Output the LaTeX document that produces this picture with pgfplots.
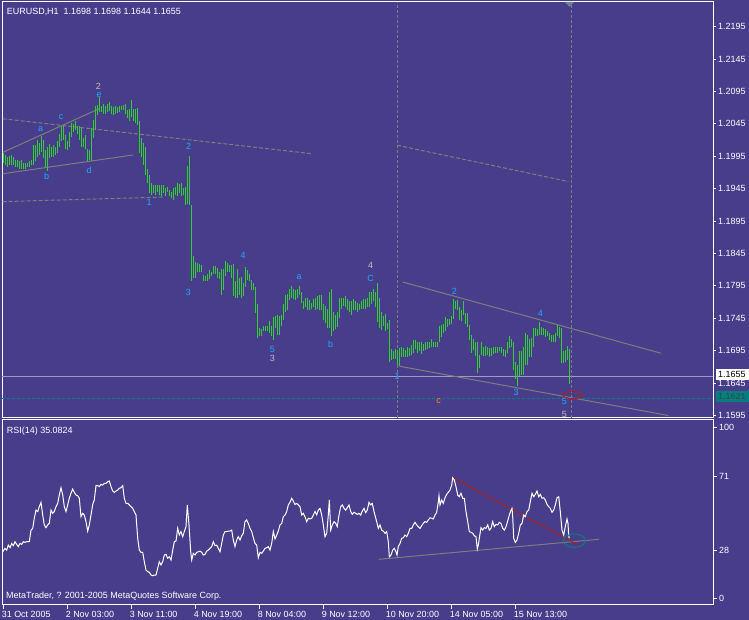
\documentclass[border=0pt]{standalone}
\usepackage{fontspec}
\setmainfont{Liberation Sans}
\usepackage{pgfplots}
\usepackage{pgfplotstable}
\pgfplotsset{compat=1.18}
\definecolor{bgc}{RGB}{72,61,139}
\definecolor{barc}{RGB}{50,205,50}
\definecolor{wavec}{RGB}{30,170,255}
\definecolor{tgray}{RGB}{125,125,125}
\definecolor{lgray}{RGB}{192,192,192}
\definecolor{tealc}{RGB}{0,128,128}
\definecolor{redc}{RGB}{175,30,30}
\definecolor{orangec}{RGB}{255,140,0}
\definecolor{bidc}{RGB}{160,155,195}
\definecolor{trianc}{RGB}{110,130,140}

\pgfplotstableread{
i lo hi
0 1.1984 1.2000
1 1.1982 1.1997
2 1.1979 1.1994
3 1.1982 1.1996
4 1.1981 1.1997
5 1.1981 1.1994
6 1.1979 1.1990
7 1.1979 1.1989
8 1.1976 1.1987
9 1.1976 1.1990
10 1.1976 1.1985
11 1.1976 1.1985
12 1.1978 1.1984
13 1.1979 1.1987
14 1.1981 1.1990
15 1.1982 1.2012
16 1.1987 1.2012
17 1.1994 1.2020
18 1.1997 1.2015
19 1.2002 1.2026
20 1.1992 1.2020
21 1.1979 1.2005
22 1.1973 1.2010
23 1.1992 1.2014
24 1.1994 1.2010
25 1.1994 1.2012
26 1.1997 1.2010
27 1.2000 1.2018
28 1.2010 1.2030
29 1.2018 1.2042
30 1.2020 1.2041
31 1.2007 1.2028
32 1.2005 1.2018
33 1.2010 1.2032
34 1.2025 1.2046
35 1.2033 1.2045
36 1.2036 1.2050
37 1.2030 1.2041
38 1.2020 1.2041
39 1.2010 1.2038
40 1.2010 1.2023
41 1.2007 1.2028
42 1.1987 1.2007
43 1.1989 1.2005
44 1.1987 1.2038
45 1.2023 1.2051
46 1.2036 1.2073
47 1.2059 1.2074
48 1.2064 1.2086
49 1.2064 1.2073
50 1.2061 1.2076
51 1.2061 1.2073
52 1.2064 1.2076
53 1.2065 1.2078
54 1.2061 1.2072
55 1.2059 1.2071
56 1.2061 1.2073
57 1.2062 1.2071
58 1.2064 1.2072
59 1.2067 1.2073
60 1.2067 1.2074
61 1.2061 1.2076
62 1.2054 1.2067
63 1.2050 1.2068
64 1.2056 1.2082
65 1.2050 1.2068
66 1.2046 1.2068
67 1.2043 1.2069
68 1.2000 1.2050
69 1.1994 1.2023
70 1.1982 1.2015
71 1.1966 1.2010
72 1.1953 1.1976
73 1.1938 1.1966
74 1.1935 1.1953
75 1.1938 1.1951
76 1.1935 1.1951
77 1.1940 1.1951
78 1.1935 1.1951
79 1.1933 1.1951
80 1.1938 1.1951
81 1.1933 1.1946
82 1.1940 1.1948
83 1.1933 1.1943
84 1.1930 1.1940
85 1.1928 1.1946
86 1.1935 1.1948
87 1.1933 1.1954
88 1.1938 1.1952
89 1.1933 1.1953
90 1.1935 1.1946
91 1.1920 1.1948
92 1.1922 1.1980
93 1.1920 1.1995
94 1.1803 1.1920
95 1.1807 1.1841
96 1.1807 1.1832
97 1.1816 1.1831
98 1.1816 1.1829
99 1.1817 1.1827
100 1.1802 1.1812
101 1.1802 1.1810
102 1.1802 1.1814
103 1.1805 1.1819
104 1.1810 1.1817
105 1.1814 1.1826
106 1.1813 1.1825
107 1.1807 1.1822
108 1.1805 1.1817
109 1.1781 1.1821
110 1.1788 1.1821
111 1.1810 1.1834
112 1.1817 1.1831
113 1.1817 1.1827
114 1.1807 1.1827
115 1.1780 1.1829
116 1.1777 1.1802
117 1.1777 1.1821
118 1.1781 1.1807
119 1.1777 1.1808
120 1.1780 1.1799
121 1.1794 1.1824
122 1.1804 1.1819
123 1.1802 1.1814
124 1.1789 1.1804
125 1.1788 1.1800
126 1.1753 1.1793
127 1.1714 1.1767
128 1.1717 1.1730
129 1.1717 1.1728
130 1.1725 1.1733
131 1.1726 1.1733
132 1.1725 1.1733
133 1.1722 1.1741
134 1.1717 1.1733
135 1.1711 1.1747
136 1.1730 1.1749
137 1.1719 1.1750
138 1.1719 1.1749
139 1.1733 1.1750
140 1.1742 1.1767
141 1.1755 1.1781
142 1.1757 1.1783
143 1.1773 1.1790
144 1.1776 1.1795
145 1.1774 1.1790
146 1.1773 1.1789
147 1.1777 1.1790
148 1.1781 1.1795
149 1.1768 1.1785
150 1.1759 1.1771
151 1.1762 1.1777
152 1.1757 1.1776
153 1.1758 1.1773
154 1.1759 1.1769
155 1.1762 1.1774
156 1.1758 1.1777
157 1.1759 1.1780
158 1.1757 1.1781
159 1.1758 1.1781
160 1.1742 1.1767
161 1.1738 1.1764
162 1.1730 1.1759
163 1.1730 1.1786
164 1.1718 1.1790
165 1.1725 1.1755
166 1.1728 1.1750
167 1.1732 1.1755
168 1.1745 1.1777
169 1.1760 1.1777
170 1.1764 1.1777
171 1.1762 1.1780
172 1.1758 1.1774
173 1.1754 1.1771
174 1.1750 1.1772
175 1.1757 1.1774
176 1.1758 1.1772
177 1.1755 1.1769
178 1.1758 1.1767
179 1.1760 1.1771
180 1.1760 1.1774
181 1.1760 1.1774
182 1.1762 1.1777
183 1.1763 1.1785
184 1.1767 1.1786
185 1.1771 1.1790
186 1.1762 1.1785
187 1.1740 1.1799
188 1.1730 1.1776
189 1.1727 1.1754
190 1.1733 1.1749
191 1.1726 1.1752
192 1.1728 1.1738
193 1.1678 1.1742
194 1.1680 1.1697
195 1.1682 1.1694
196 1.1682 1.1697
197 1.1673 1.1696
198 1.1672 1.1699
199 1.1686 1.1700
200 1.1686 1.1699
201 1.1685 1.1696
202 1.1686 1.1701
203 1.1687 1.1699
204 1.1688 1.1704
205 1.1691 1.1711
206 1.1697 1.1712
207 1.1691 1.1709
208 1.1694 1.1709
209 1.1690 1.1708
210 1.1695 1.1705
211 1.1696 1.1708
212 1.1697 1.1709
213 1.1699 1.1708
214 1.1700 1.1713
215 1.1701 1.1709
216 1.1700 1.1708
217 1.1701 1.1709
218 1.1708 1.1733
219 1.1716 1.1735
220 1.1723 1.1736
221 1.1725 1.1747
222 1.1732 1.1744
223 1.1735 1.1744
224 1.1736 1.1748
225 1.1744 1.1774
226 1.1760 1.1771
227 1.1758 1.1773
228 1.1742 1.1763
229 1.1741 1.1758
230 1.1750 1.1771
231 1.1736 1.1753
232 1.1731 1.1753
233 1.1712 1.1735
234 1.1692 1.1719
235 1.1696 1.1713
236 1.1687 1.1709
237 1.1661 1.1709
238 1.1668 1.1688
239 1.1688 1.1708
240 1.1687 1.1701
241 1.1687 1.1702
242 1.1688 1.1700
243 1.1686 1.1699
244 1.1687 1.1699
245 1.1690 1.1701
246 1.1691 1.1701
247 1.1692 1.1701
248 1.1694 1.1701
249 1.1691 1.1701
250 1.1687 1.1697
251 1.1686 1.1696
252 1.1691 1.1709
253 1.1699 1.1717
254 1.1701 1.1713
255 1.1665 1.1709
256 1.1652 1.1677
257 1.1641 1.1673
258 1.1656 1.1694
259 1.1658 1.1695
260 1.1658 1.1701
261 1.1673 1.1723
262 1.1673 1.1719
263 1.1686 1.1713
264 1.1686 1.1714
265 1.1701 1.1730
266 1.1717 1.1730
267 1.1717 1.1728
268 1.1719 1.1740
269 1.1719 1.1732
270 1.1719 1.1730
271 1.1716 1.1728
272 1.1718 1.1726
273 1.1712 1.1723
274 1.1708 1.1719
275 1.1708 1.1719
276 1.1708 1.1723
277 1.1717 1.1735
278 1.1714 1.1732
279 1.1676 1.1730
280 1.1676 1.1694
281 1.1678 1.1696
282 1.1681 1.1702
283 1.1644 1.1698
}\bars

\pgfplotstableread{
x r
-0.3 27.2
0.8 29.2
1.7 28.2
2.5 31.1
3.4 29.6
4.2 32.1
5.0 30.8
5.85 33.1
6.7 31.5
7.5 30.2
8.35 32.1
9.2 31.5
10.0 33.1
10.85 32.7
11.7 33.1
13.0 33.1
13.85 39.9
14.7 40.9
15.5 46.8
16.35 51.6
17.2 50.7
18.0 53.6
18.85 56.1
19.7 48.7
20.5 42.9
21.35 41.3
22.2 42.9
23.0 43.8
23.85 51.6
24.7 49.7
25.5 50.7
26.35 53.6
27.2 55.5
28.0 60.4
28.85 64.7
29.7 60.4
30.5 53.6
31.35 50.7
32.2 54.6
33.0 58.5
33.85 61.4
34.7 63.9
35.5 62.0
36.35 60.4
37.2 60.0
38.0 58.5
38.85 47.7
39.7 49.7
40.5 48.7
41.35 44.8
42.2 39.3
43.0 42.9
43.85 48.7
44.7 54.9
45.5 57.5
46.35 65.9
47.2 65.9
48.0 65.3
48.85 66.6
49.7 66.2
50.5 67.2
51.35 67.2
52.2 68.2
53.0 68.6
53.85 65.3
54.7 62.7
55.5 62.0
56.35 62.7
57.2 63.3
58.0 64.3
58.85 64.7
59.7 65.9
60.5 58.5
61.35 55.5
62.2 55.5
63.0 54.6
63.85 53.6
64.7 52.6
65.5 50.7
66.35 48.7
67.2 35.1
68.0 28.2
68.85 26.9
69.7 26.9
70.5 21.4
71.35 16.5
72.2 15.6
73.0 15.2
73.85 13.6
74.7 13.2
75.5 13.6
76.35 13.6
77.2 17.5
78.0 21.4
78.85 19.5
79.7 21.4
80.5 25.3
81.35 25.7
82.2 23.4
83.0 24.3
83.85 22.4
84.7 28.2
85.5 33.1
86.35 33.5
87.2 40.9
88.0 37.0
88.85 39.0
89.7 36.0
90.5 39.0
91.35 41.9
92.0 54.6
92.85 42.9
93.7 27.2
94.2 22.4
95.0 26.3
95.85 25.3
96.7 26.9
97.5 27.2
98.35 27.6
99.2 26.9
100.0 25.3
100.85 25.7
101.7 27.6
102.5 28.2
103.35 29.2
104.2 30.2
105.0 33.1
105.85 30.8
106.7 31.1
107.5 29.2
108.35 27.2
109.2 32.1
110.0 37.0
110.85 39.0
111.7 39.0
112.5 39.3
113.35 39.3
114.2 39.9
115.0 34.1
115.85 30.2
116.7 34.1
117.5 36.0
118.35 34.1
119.2 36.6
120.0 38.0
120.85 44.8
121.7 45.8
122.5 43.8
123.35 40.9
124.2 39.0
125.0 35.5
125.85 32.1
126.7 31.1
127.5 23.7
128.35 26.9
129.2 26.3
130.0 27.6
130.85 29.2
131.7 29.6
132.5 30.2
133.35 28.2
134.2 32.1
135.0 39.0
135.85 34.7
136.7 37.0
137.5 39.3
138.35 42.9
139.2 43.8
140.0 47.7
140.85 48.7
141.7 50.7
142.5 54.6
143.35 56.1
144.2 58.5
145.0 56.9
145.85 54.9
146.7 55.5
147.5 54.6
148.35 53.6
149.2 48.7
150.0 49.7
150.85 47.7
151.7 44.8
152.5 46.8
153.35 46.4
154.2 46.8
155.0 48.7
155.85 50.7
156.7 48.7
157.5 51.6
158.35 52.6
159.2 48.7
160.0 42.9
160.85 36.0
161.7 38.0
162.5 48.7
163.0 57.5
163.7 39.9
164.5 42.9
165.35 44.8
166.2 43.8
167.0 41.9
167.85 48.7
168.7 53.6
169.5 54.6
170.35 52.6
171.2 51.6
172.0 53.0
172.85 54.6
173.7 50.7
174.5 49.1
175.35 50.3
176.2 49.7
177.0 49.1
177.85 49.7
178.7 48.7
179.5 51.0
180.35 52.6
181.2 50.1
182.0 51.6
182.85 56.1
183.7 54.6
184.5 55.5
185.35 50.7
186.7 44.8
187.5 40.9
188.35 42.9
189.2 39.9
190.0 39.3
190.85 38.0
191.7 39.0
192.5 33.1
193.0 24.3
193.85 25.3
194.7 28.2
195.5 29.2
196.35 27.2
196.85 25.3
197.5 30.2
198.35 32.1
199.2 35.1
200.0 35.4
200.85 37.0
201.7 36.0
202.5 38.0
203.35 40.9
204.2 40.9
205.0 42.9
205.85 44.4
206.7 42.9
207.5 41.9
208.35 40.9
209.2 42.5
210.0 43.8
210.85 44.8
211.7 44.4
212.5 45.8
213.35 47.1
214.2 46.8
215.0 46.4
215.85 48.7
216.7 50.3
217.5 56.5
217.85 60.0
218.35 54.6
219.2 57.5
220.0 55.5
220.85 58.8
221.7 60.8
222.5 62.0
223.35 63.3
224.2 66.2
224.7 70.5
225.5 69.2
226.35 65.3
227.2 60.4
228.0 59.4
228.85 61.4
229.7 58.5
230.5 58.5
231.35 50.7
232.2 44.8
233.0 39.0
233.85 38.6
234.7 38.0
235.5 36.6
236.35 36.0
237.0 28.8
237.5 31.1
238.0 35.1
238.85 41.3
239.7 39.9
240.5 41.3
241.35 40.9
242.2 42.9
243.0 39.9
243.85 40.9
244.7 44.8
245.5 41.9
246.35 43.2
247.2 42.9
248.0 44.4
248.85 43.8
249.7 40.9
250.5 39.9
251.35 41.9
252.2 45.2
253.0 48.7
253.85 51.6
254.35 52.6
254.7 47.7
255.2 35.1
256.0 32.7
256.85 34.1
257.7 38.0
258.5 42.9
259.35 43.8
260.2 48.7
261.0 47.7
261.85 50.7
262.7 51.6
263.5 56.5
264.35 61.4
265.2 59.4
266.0 60.8
266.85 62.7
267.7 59.4
268.5 60.8
269.35 58.5
270.2 58.8
271.0 57.5
271.85 54.9
272.7 53.6
273.5 52.6
274.35 50.3
275.2 51.6
276.0 54.6
276.85 58.8
277.7 59.4
278.5 50.7
279.35 39.9
280.2 37.0
281.0 41.9
281.85 46.4
282.35 43.8
282.7 36.6
283.0 35.1
}\rsi

\begin{document}
\begin{tikzpicture}[font=\fontsize{9}{10}\selectfont]
\fill[bgc] (0bp,0bp) rectangle (749bp,620bp);
\pgfplotsset{mt/.style={
  scale only axis, width=711bp, anchor=south west,
  xmin=-0.65, xmax=354.85,
  axis line style={white, line width=1bp},
  tick style={white, line width=0.8bp},
  tick align=outside,
  ytick pos=right, yticklabel pos=right,
  tick label style={text=white, font=\fontsize{9}{10}\selectfont, inner sep=0pt},
  /pgf/number format/assume math mode=true,
  clip=true}}
% ---------------- price panel ----------------
\begin{axis}[mt, at={(2bp,202bp)}, height=416bp,
  ymin=1.15911, ymax=1.22331,
  xtick=\empty,
  major tick length=3bp,
  ytick={1.1595,1.1645,1.1695,1.1745,1.1795,1.1845,1.1895,1.1945,1.1995,1.2045,1.2095,1.2145,1.2195},
  yticklabel style={anchor=west, xshift=2bp, /pgf/number format/fixed, /pgf/number format/fixed zerofill, /pgf/number format/precision=4}]
% bid line and dashed level
\addplot[bidc, line width=1bp] coordinates {(-0.65,1.1655) (354.85,1.1655)};
\addplot[tealc, line width=1bp, dash pattern=on 3bp off 2bp] coordinates {(-0.65,1.1621) (354.85,1.1621)};
% vertical dashed lines
\addplot[tgray, line width=1bp, dash pattern=on 3bp off 2bp] coordinates {(197.1,1.15911) (197.1,1.22331)};
\addplot[tgray, line width=1bp, dash pattern=on 3bp off 2bp] coordinates {(283.85,1.15911) (283.85,1.22331)};
% trend lines
\addplot[tgray, line width=1bp] coordinates {(-0.3,1.2001) (48.35,1.2069)};
\addplot[tgray, line width=1bp] coordinates {(-0.3,1.1968) (65,1.1997)};
\addplot[tgray, line width=1bp, dash pattern=on 4bp off 2bp] coordinates {(-0.3,1.2053) (154.2,1.1999)};
\addplot[tgray, line width=1bp, dash pattern=on 4bp off 2bp] coordinates {(-0.3,1.1925) (79.85,1.1932)};
\addplot[tgray, line width=1bp, dash pattern=on 4bp off 2bp] coordinates {(197,1.2012) (282.5,1.1956)};
\addplot[tgray, line width=1bp] coordinates {(199.7,1.1801) (328.85,1.1691)};
\addplot[tgray, line width=1bp] coordinates {(198,1.1671) (332.5,1.1595)};
% HL bars
\addplot[draw=none, mark=none, forget plot,
  error bars/.cd, y dir=plus, y explicit, error mark=none,
  error bar style={draw=barc, line width=1bp}]
  table[x=i, y=lo, y error plus expr=\thisrow{hi}-\thisrow{lo}] {\bars};
\end{axis}
% ---------------- RSI panel ----------------
\begin{axis}[mt, at={(2bp,15bp)}, height=185bp,
  ymin=-3.92, ymax=104.27,
  major tick length=4bp,
  ytick={0,28,71,100},
  yticklabel style={anchor=west, xshift=2bp},
  xtick pos=bottom,
  xtick={0,32,64,96,128,160,192,224,256},
  xticklabels={31 Oct 2005,2 Nov 03:00,3 Nov 11:00,4 Nov 19:00,8 Nov 04:00,9 Nov 12:00,10 Nov 20:00,14 Nov 05:00,15 Nov 13:00},
  xticklabel style={anchor=north west, xshift=-1.7bp, yshift=-2bp}]
\addplot[tgray, line width=1bp] coordinates {(187.85,22.8) (297.85,34.5)};
\addplot[redc, line width=1bp] coordinates {(224.7,70.5) (287.5,31.2)};
\addplot[white, line width=1bp] table[x=x, y=r] {\rsi};
\end{axis}
% ---------------- annotations ----------------
\begin{scope}[x=1bp, y=1bp]
\fill[trianc] (565,618) -- (574,618) -- (569.5,613) -- cycle;
\draw[redc, line width=1bp] (572.7,225) ellipse (10 and 3.7);
\draw[tealc, line width=1bp] (574.3,79.3) ellipse (11 and 6.7);
\node[anchor=base west, text=white, inner sep=0pt] at (6.7,605.7) {EURUSD,H1\ \ 1.1698 1.1698 1.1644 1.1655};
\node[anchor=base west, text=white, inner sep=0pt] at (6.7,186.5) {RSI(14) 35.0824};
\node[anchor=base west, text=white, inner sep=0pt] at (6,21.8) {MetaTrader, ? 2001-2005 MetaQuotes Software Corp.};
\node[anchor=west, fill=white, text=black, inner sep=0pt, inner xsep=2bp, minimum width=33bp, minimum height=10.5bp, text width=29bp] at (716,245.5) {1.1655};
\node[anchor=west, fill=tealc, text=black!75, inner sep=0pt, inner xsep=2bp, minimum width=33bp, minimum height=10.5bp, text width=29bp] at (716,223.5) {1.1621};
\begin{scope}[every node/.style={inner sep=0pt}]
\node[text=lgray] at (98.3,534) {2};
\node[text=wavec] at (99,524.5) {e};
\node[text=lgray] at (272.3,261.3) {3};
\node[text=lgray] at (370.7,354.7) {4};
\node[text=lgray] at (564.3,205.3) {5};
\node[text=orangec] at (438.7,218.7) {c};
\node[text=wavec] at (61,502.7) {c};
\node[text=wavec] at (40.7,491) {a};
\node[text=wavec] at (46.7,443.3) {b};
\node[text=wavec] at (89,450) {d};
\node[text=wavec] at (188.7,474) {2};
\node[text=wavec] at (149,417.7) {1};
\node[text=wavec] at (188.3,327.7) {3};
\node[text=wavec] at (243,365) {4};
\node[text=wavec] at (299,342.7) {a};
\node[text=wavec] at (272.3,270.7) {5};
\node[text=wavec] at (330.7,275.3) {b};
\node[text=wavec] at (370.7,341.7) {C};
\node[text=wavec] at (454.3,328.3) {2};
\node[text=wavec] at (397,243.3) {1};
\node[text=wavec] at (516,227.7) {3};
\node[text=wavec] at (540.3,306.7) {4};
\node[text=wavec] at (564.3,218.3) {5};
\end{scope}
\end{scope}
\pgfresetboundingbox
\path[use as bounding box] (0bp,0bp) rectangle (749bp,620bp);
\end{tikzpicture}
\end{document}
